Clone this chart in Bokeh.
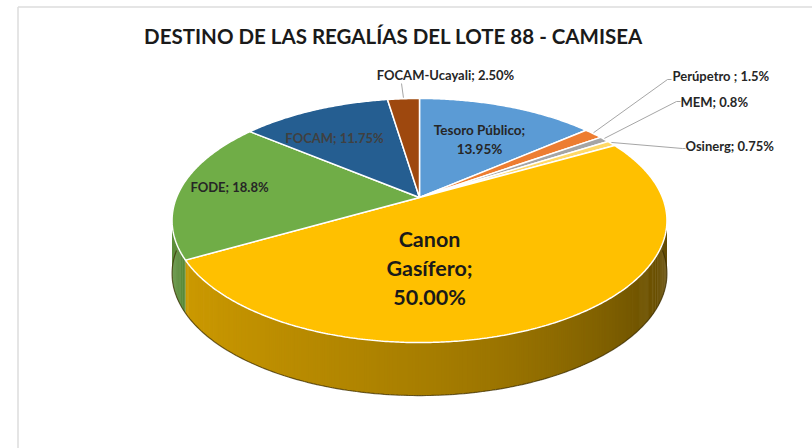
import numpy as np
from bokeh.plotting import figure
from bokeh.models import Range1d
from bokeh.core.properties import value
from bokeh.embed import file_html
from bokeh.resources import INLINE

# ---- data (clockwise from 12 o'clock) ----
categories = ["Tesoro Público", "Perúpetro", "MEM", "Osinerg",
              "Canon Gasífero", "FODE", "FOCAM", "FOCAM-Ucayali"]
shares = [13.95, 1.5, 0.8, 0.75, 50.00, 18.8, 11.75, 2.50]
share_labels = ["13.95%", "1.5%", "0.8%", "0.75%", "50.00%", "18.8%", "11.75%", "2.50%"]
title_text = "DESTINO DE LAS REGALÍAS DEL LOTE 88 - CAMISEA"

# ---- styles ----
colors = ["#5B9BD5", "#ED7D31", "#A5A5A5", "#FFD966",
          "#FFC000", "#70AD47", "#255E91", "#9E480E"]

CX, CY = 419.0, 197.0      # pie centre on screen
A, B, K = 243.0, 117.7, 0.1885  # perspective ellipse params
DEPTH = 53.0
FONT = "Lato"


def proj(phi_deg, dy=0.0):
    phi = np.radians(phi_deg)
    u, v = np.cos(phi), np.sin(phi)
    w = 1.0 + K * v
    return CX + A * u / w, CY - B * v / w + dy


def shade(hex_color, f):
    h = hex_color.lstrip("#")
    r, g, b = (int(h[i:i + 2], 16) for i in (0, 2, 4))
    return "#%02x%02x%02x" % (int(r * f), int(g * f), int(b * f))


p = figure(width=812, height=448, x_range=Range1d(0, 812), y_range=Range1d(448, 0),
           min_border=0, toolbar_location=None, output_backend="svg",
           x_axis_type=None, y_axis_type=None)
p.grid.visible = False
p.outline_line_color = None
p.background_fill_color = "white"

# chart-area border (left & top)
p.segment(x0=[17.5, 17.5], y0=[6.5, 6.5], x1=[17.5, 812], y1=[448, 6.5],
          line_color="#dcdcdc", line_width=1.5)

# angles
total = float(sum(shares))
starts, ends = [], []
a = 90.0
for s in shares:
    starts.append(a)
    a = a - s / total * 360.0
    ends.append(a)

# ---- side walls (front half: angles between -180 and 0) ----
STEP = 0.5
wx, wy, wc = [], [], []
for i, (a0, a1) in enumerate(zip(starts, ends)):
    hi = min(a0, 0.0)
    lo = max(a1, -180.0)
    if hi <= lo:
        continue
    n = max(1, int(np.ceil((hi - lo) / STEP)))
    ts = np.linspace(hi, lo, n + 1)
    for j, (t0, t1) in enumerate(zip(ts[:-1], ts[1:])):
        # extend each strip a little so neighbours overlap (no seams)
        t1e = max(t1 - STEP * 0.6, lo) if j < n - 1 else t1
        x0, y0 = proj(t0)
        x1, y1 = proj(t1e)
        u = np.cos(np.radians((t0 + t1) / 2))
        f = 0.66 - 0.16 * u - 0.13 * max(u, 0.0) ** 2
        c = shade(colors[i], f)
        wx.append([x0, x1, x1, x0])
        wy.append([y0, y1, y1 + DEPTH, y0 + DEPTH])
        wc.append(c)
p.patches(wx, wy, fill_color=wc, line_color=None)

# bottom rim outline
tb = np.linspace(-180, 0, 200)
bx, by = proj(tb, DEPTH)
p.line(bx, by, line_color="#3a2c00", line_width=1.2, line_alpha=0.7)

# ---- top faces ----
tx, ty = [], []
for a0, a1 in zip(starts, ends):
    n = max(2, int(abs(a0 - a1) / 0.5) + 1)
    ts = np.linspace(a0, a1, n)
    ax, ay = proj(ts)
    tx.append([CX] + list(ax))
    ty.append([CY] + list(ay))
p.patches(tx, ty, fill_color=colors, line_color="white", line_width=1.5)

# ---- leader lines ----
mids = [(a0 + a1) / 2 for a0, a1 in zip(starts, ends)]
leader_elbows = {
    "FOCAM-Ucayali": [(401, 83)],
    "Perúpetro": [(667, 79), (671, 79)],
    "MEM": [(676, 101), (680, 101)],
    "Osinerg": [(682, 148), (685, 148)],
}
lx, ly = [], []
for name, pts in leader_elbows.items():
    i = categories.index(name)
    ax, ay = proj(mids[i])
    xs = [float(ax)] + [q[0] for q in pts]
    ys = [float(ay) - 1] + [q[1] for q in pts]
    lx.append(xs)
    ly.append(ys)
p.multi_line(lx, ly, line_color="#a6a6a6", line_width=1)

# ---- labels ----
label_layout = {
    "Tesoro Público": dict(lines=["Tesoro Público;", "13.95%"], x=479, y=129, dy=19,
                           align="center", size="13.5px", color="#262626"),
    "Perúpetro": dict(lines=["Perúpetro  ; 1.5%"], x=672, y=75, dy=0,
                      align="left", size="13px", color="#262626"),
    "MEM": dict(lines=["MEM; 0.8%"], x=680, y=101, dy=0,
                align="left", size="13px", color="#262626"),
    "Osinerg": dict(lines=["Osinerg; 0.75%"], x=685, y=145, dy=0,
                    align="left", size="13px", color="#262626"),
    "Canon Gasífero": dict(lines=["Canon", "Gasífero;", "50.00%"], x=429, y=238, dy=29,
                           align="center", size="21.5px", color="#1a1a1a"),
    "FODE": dict(lines=["FODE; 18.8%"], x=229, y=186, dy=0,
                 align="center", size="13px", color="#262626"),
    "FOCAM": dict(lines=["FOCAM; 11.75%"], x=334, y=137, dy=0,
                  align="center", size="13px", color="#404040"),
    "FOCAM-Ucayali": dict(lines=["FOCAM-Ucayali; 2.50%"], x=445, y=74, dy=0,
                          align="center", size="13px", color="#262626"),
}
for name, lab in label_layout.items():
    i = categories.index(name)
    assert lab["lines"][-1].endswith(share_labels[i])
    n = len(lab["lines"])
    p.text(x=[lab["x"]] * n, y=[lab["y"] + k * lab["dy"] for k in range(n)],
           text=lab["lines"], text_font=value(FONT), text_font_style="bold",
           text_font_size=lab["size"], text_color=lab["color"],
           text_align=lab["align"], text_baseline="middle")

# ---- title ----
p.text(x=[393], y=[35], text=[title_text], text_font=value(FONT),
       text_font_style="bold", text_font_size="20.5px", text_color="#1a1a1a",
       text_align="center", text_baseline="middle")

open("out.html", "w").write(file_html(p, INLINE))
